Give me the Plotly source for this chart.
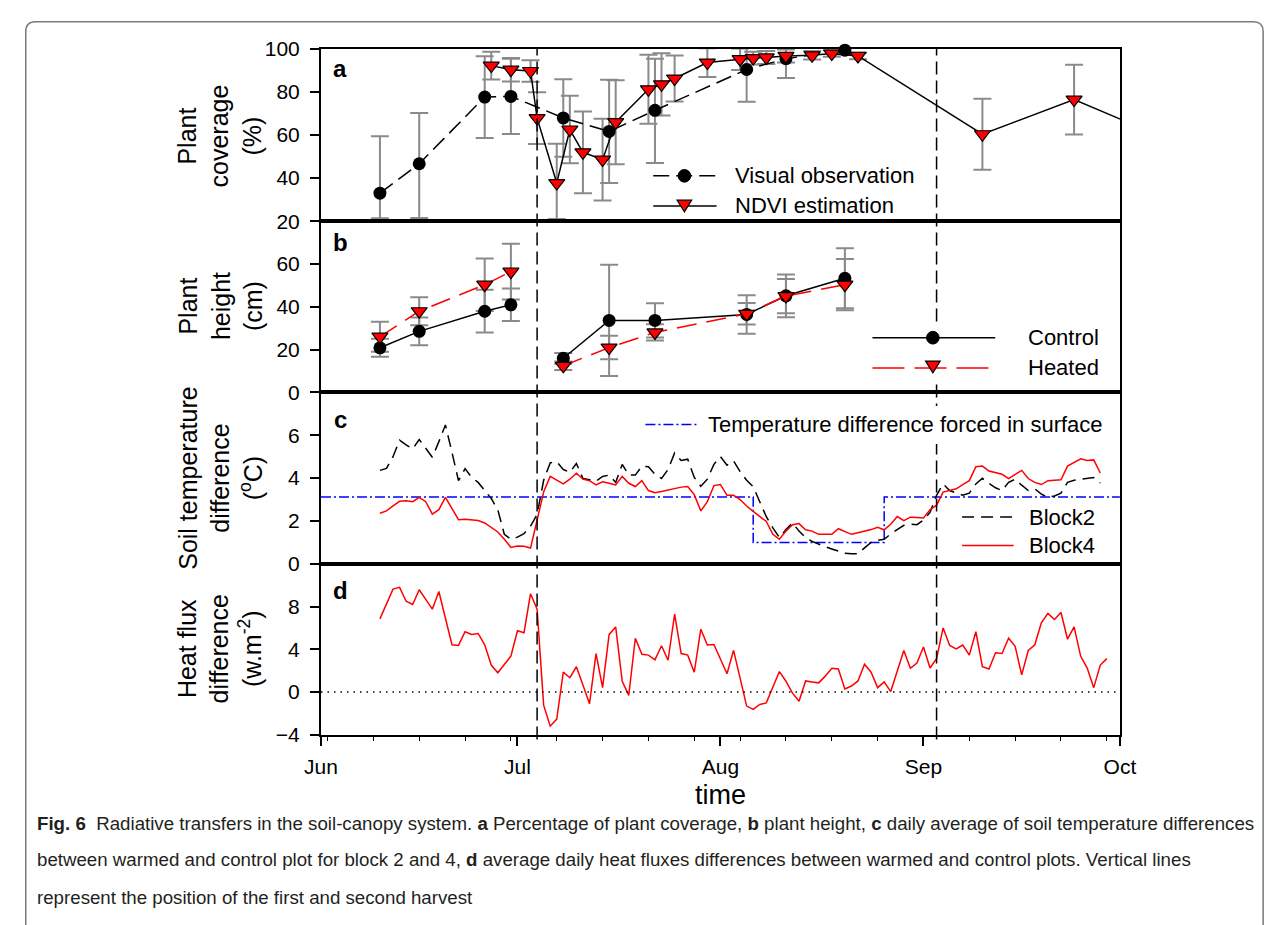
import pandas as pd
import plotly.graph_objects as go

W, H = 1285, 925

# ------------------------------------------------------------------ data
month_ticks = ["2011-06-01", "2011-07-01", "2011-08-01", "2011-09-01", "2011-10-01"]
x_range = ["2011-06-01", "2011-10-01"]
harvest_dates = ["2011-07-04", "2011-09-03"]

# (a) plant coverage (%)
visual_dates = ["2011-06-10", "2011-06-16", "2011-06-26", "2011-06-30", "2011-07-08",
                "2011-07-15", "2011-07-22", "2011-08-05", "2011-08-11", "2011-08-20"]
visual_cov = [33.0, 46.7, 77.7, 78.0, 68.0, 61.7, 71.5, 90.5, 95.5, 99.5]
visual_err_plus = [26.5, 23.6, 19.0, 17.5, 18.0, 24.0, 24.0, 15.0, 9.0, 2.0]
visual_err_minus = [11.7, 25.2, 19.0, 17.5, 18.0, 24.0, 24.5, 15.0, 9.0, 2.0]

ndvi_dates = ["2011-06-27", "2011-06-30", "2011-07-03", "2011-07-04", "2011-07-07",
              "2011-07-09", "2011-07-11", "2011-07-14", "2011-07-16", "2011-07-21",
              "2011-07-23", "2011-07-25", "2011-07-30", "2011-08-04", "2011-08-06",
              "2011-08-08", "2011-08-11", "2011-08-15", "2011-08-18", "2011-08-22",
              "2011-09-10", "2011-09-24", "2011-10-08"]
ndvi_cov = [92.3, 90.4, 89.8, 67.9, 37.7, 62.6, 52.0, 48.6, 66.0, 81.3, 83.6, 86.3,
            93.7, 95.3, 95.8, 96.1, 96.8, 97.1, 97.9, 96.8, 60.4, 76.5, 58.5]
ndvi_err_plus = [6.5, 5.5, 5.0, 12.0, 18.3, 15.7, 19.0, 19.0, 19.5, 16.0, 14.5, 10.7,
                 6.7, 5.0, 3.0, 3.0, 3.0, 2.0, 1.5, 1.5, 16.5, 16.2, 0.0]
ndvi_err_minus = [6.5, 5.5, 5.0, 12.0, 16.7, 15.7, 19.0, 19.0, 19.5, 16.0, 14.5, 10.7,
                  6.7, 5.0, 3.0, 3.0, 3.0, 2.0, 1.5, 1.5, 16.5, 16.2, 0.0]

# (b) plant height (cm) ; None separates the two growth periods
height_dates = ["2011-06-10", "2011-06-16", "2011-06-26", "2011-06-30", None,
                "2011-07-08", "2011-07-15", "2011-07-22", "2011-08-05", "2011-08-11", "2011-08-20"]
control_height = [20.8, 28.5, 37.9, 40.9, None, 15.9, 33.6, 33.6, 36.4, 45.1, 53.3]
control_err = [4.2, 6.5, 10.0, 7.6, None, 2.5, 26.0, 8.0, 9.0, 10.0, 14.0]
heated_height = [26.0, 37.9, 50.3, 56.4, None, 12.4, 20.9, 28.0, 36.7, 45.0, 50.3]
heated_err = [7.0, 6.5, 12.3, 13.0, None, 2.0, 5.5, 3.8, 5.0, 8.0, 12.0]

# (c) soil temperature difference (degC), daily from 10 June
block_start = "2011-06-10"
block2 = [4.36, 4.45, 5.0, 5.77, 5.55, 5.36, 5.8, 5.4, 4.97, 5.7,
          6.48, 5.2, 3.88, 4.44, 4.03, 3.8, 3.42, 3.05, 2.52, 1.38,
          1.15, 1.25, 1.41, 1.76, 2.3, 3.9, 4.71, 4.76, 4.4, 4.27,
          4.68, 3.98, 3.92, 3.86, 4.08, 4.14, 3.8, 4.64, 4.14, 4.14,
          4.56, 4.53, 4.18, 3.98, 4.4, 5.17, 4.82, 4.88, 4.03, 3.62,
          3.95, 4.64, 5.0, 4.6, 4.8, 4.3, 3.9, 3.6, 2.9, 2.2,
          1.68, 1.23, 1.6, 1.91, 1.53, 1.23, 1.05, 0.92, 0.8, 0.7,
          0.6, 0.5, 0.47, 0.47, 0.75, 1.0, 1.1, 1.15, 1.4, 1.6,
          1.8, 1.85, 1.83, 2.05, 2.4, 3.2, 3.73, 3.42, 3.3, 3.2,
          3.3, 3.73, 4.0, 3.75, 3.55, 3.42, 3.8, 3.95, 3.67, 3.42,
          3.5, 3.25, 3.1, 3.17, 3.3, 3.8, 3.9, 3.95, 4.0, 4.03, 3.77]
block4 = [2.36, 2.47, 2.71, 2.92, 2.94, 2.9, 3.1, 2.9, 2.32, 2.53,
          3.1, 2.56, 2.06, 2.08, 2.06, 2.02, 1.91, 1.71, 1.49, 1.15,
          0.77, 0.83, 0.82, 0.74, 2.0, 3.35, 4.08, 3.92, 3.73, 3.95,
          4.23, 3.95, 3.88, 3.68, 3.83, 3.76, 3.68, 4.08, 3.76, 3.61,
          3.88, 3.42, 3.32, 3.38, 3.45, 3.53, 3.58, 3.61, 3.23, 2.47,
          2.9, 3.65, 3.7, 3.2, 3.2, 3.0, 2.7, 2.45, 2.2, 1.98,
          1.38, 1.15, 1.53, 1.83, 1.88, 1.59, 1.53, 1.38, 1.38, 1.38,
          1.64, 1.5, 1.38, 1.45, 1.52, 1.6, 1.71, 1.59, 1.85, 2.21,
          2.02, 2.18, 2.16, 2.14, 2.52, 2.74, 3.35, 3.42, 3.5, 3.7,
          3.88, 4.53, 4.56, 4.33, 4.25, 4.18, 3.98, 4.15, 4.36, 3.98,
          3.8, 3.7, 3.88, 3.9, 3.92, 4.56, 4.75, 4.9, 4.82, 4.85, 4.24]
forced_dates = ["2011-06-01", "2011-08-06", "2011-08-26", "2011-10-01"]
forced_diff = [3.12, 1.0, 3.12, 3.12]

# (d) heat flux difference (W m-2), daily from 10 June
flux_start = "2011-06-10"
heat_flux = [6.85, 8.2, 9.64, 9.8, 8.5, 8.2, 9.58, 8.67, 7.76, 9.42,
             6.85, 4.42, 4.36, 5.64, 5.39, 5.48, 4.42, 2.52, 1.79, 2.6,
             3.36, 5.73, 5.55, 9.21, 7.76, -1.24, -3.21, -2.55, 1.85, 1.33,
             2.36, 0.64, -1.12, 3.6, 0.4, 5.39, 6.09, 1.0, -0.33, 5.03,
             3.52, 3.45, 3.0, 4.33, 2.97, 7.3, 3.6, 3.45, 1.85, 5.88,
             4.4, 4.45, 3.06, 1.7, 3.9, 1.3, -1.33, -1.64, -1.18, -1.03,
             0.42, 1.91, 1.0, -0.12, -0.88, 1.03, 0.94, 0.85, 1.48, 2.21,
             2.15, 0.27, 0.55, 1.03, 2.6, 1.85, 0.4, 0.94, 0.03, 1.9,
             3.88, 2.21, 2.7, 4.21, 2.24, 3.12, 6.0, 4.36, 4.03, 4.39,
             3.45, 5.64, 2.36, 2.15, 3.67, 3.6, 5.03, 4.27, 1.6, 3.88,
             4.42, 6.48, 7.36, 6.79, 7.45, 4.94, 6.09, 3.36, 2.24, 0.4, 2.52, 3.12]

block_dates = pd.date_range(block_start, periods=len(block2), freq="D")
flux_dates = pd.date_range(flux_start, periods=len(heat_flux), freq="D")

caption_lines = [
    "<b>Fig. 6</b>\u00a0\u00a0Radiative transfers in the soil-canopy system. <b>a</b> Percentage of plant "
    "coverage, <b>b</b> plant height, <b>c</b> daily average of soil temperature differences",
    "between warmed and control plot for block 2 and 4, <b>d</b> average daily heat fluxes differences "
    "between warmed and control plots. Vertical lines",
    "represent the position of the first and second harvest",
]

# ------------------------------------------------------------------ helpers
FONT = "Liberation Sans, Arial, sans-serif"
GREY = "#8a8a8a"


def px(x):
    return x / W


def py(y):
    return 1 - y / H


fig = go.Figure()

# ---- panel a
fig.add_trace(go.Scatter(x=visual_dates, y=visual_cov, mode="markers", xaxis="x", yaxis="y",
                         marker=dict(size=1, color="rgba(0,0,0,0)"),
                         error_y=dict(type="data", array=visual_err_plus, arrayminus=visual_err_minus,
                                      color=GREY, thickness=2, width=9)))
fig.add_trace(go.Scatter(x=ndvi_dates, y=ndvi_cov, mode="markers", xaxis="x", yaxis="y",
                         marker=dict(size=1, color="rgba(0,0,0,0)"),
                         error_y=dict(type="data", array=ndvi_err_plus, arrayminus=ndvi_err_minus,
                                      color=GREY, thickness=2, width=9)))
fig.add_trace(go.Scatter(x=visual_dates, y=visual_cov, mode="lines+markers", xaxis="x", yaxis="y",
                         name="Visual observation", cliponaxis=False,
                         line=dict(color="black", width=1.5, dash="16px,7px"),
                         marker=dict(symbol="circle", size=13, color="black")))
fig.add_trace(go.Scatter(x=ndvi_dates, y=ndvi_cov, mode="lines+markers", xaxis="x", yaxis="y",
                         name="NDVI estimation",
                         line=dict(color="black", width=1.5),
                         marker=dict(symbol="triangle-down", size=14, color="#ff0000",
                                     line=dict(color="black", width=1.2))))

# ---- panel b
fig.add_trace(go.Scatter(x=height_dates, y=control_height, mode="markers", xaxis="x2", yaxis="y2",
                         marker=dict(size=1, color="rgba(0,0,0,0)"),
                         error_y=dict(type="data", array=control_err, color=GREY, thickness=2, width=9)))
fig.add_trace(go.Scatter(x=height_dates, y=heated_height, mode="markers", xaxis="x2", yaxis="y2",
                         marker=dict(size=1, color="rgba(0,0,0,0)"),
                         error_y=dict(type="data", array=heated_err, color=GREY, thickness=2, width=9)))
fig.add_trace(go.Scatter(x=height_dates, y=control_height, mode="lines+markers", xaxis="x2", yaxis="y2",
                         name="Control", line=dict(color="black", width=1.5),
                         marker=dict(symbol="circle", size=13, color="black")))
fig.add_trace(go.Scatter(x=height_dates, y=heated_height, mode="lines+markers", xaxis="x2", yaxis="y2",
                         name="Heated", line=dict(color="#ff0000", width=1.5, dash="20px,10px"),
                         marker=dict(symbol="triangle-down", size=14, color="#ff0000",
                                     line=dict(color="black", width=1.2))))

# ---- panel c
fig.add_trace(go.Scatter(x=forced_dates, y=forced_diff, mode="lines", xaxis="x3", yaxis="y3",
                         name="Temperature difference forced in surface", line_shape="hv",
                         line=dict(color="#0000ff", width=1.5, dash="10px,3px,2px,3px")))
fig.add_trace(go.Scatter(x=block_dates, y=block2, mode="lines", xaxis="x3", yaxis="y3",
                         name="Block2", line=dict(color="black", width=1.5, dash="12px,7px")))
fig.add_trace(go.Scatter(x=block_dates, y=block4, mode="lines", xaxis="x3", yaxis="y3",
                         name="Block4", line=dict(color="#ff0000", width=1.5)))

# ---- panel d
fig.add_trace(go.Scatter(x=flux_dates, y=heat_flux, mode="lines", xaxis="x4", yaxis="y4",
                         name="Heat flux", line=dict(color="#ff0000", width=1.5)))

# ------------------------------------------------------------------ axes
xdom = [px(312), px(1132)]
xbase = dict(domain=xdom, type="date", range=x_range, showline=True, mirror=True,
             linecolor="black", linewidth=2, showgrid=False, zeroline=False)
ybase = dict(showline=True, mirror=True, linecolor="black", linewidth=2, showgrid=False,
             zeroline=False, ticks="outside", ticklen=9, tickwidth=1.5, tickcolor="black",
             tickfont=dict(family=FONT, size=21, color="black"), ticklabelstandoff=6)

fig.update_layout(
    width=W, height=H, margin=dict(l=0, r=0, t=0, b=0),
    paper_bgcolor="white", plot_bgcolor="white", showlegend=False,
    font=dict(family=FONT, color="black", size=21),
    xaxis=dict(**xbase, anchor="y", showticklabels=False, ticks=""),
    xaxis2=dict(**xbase, anchor="y2", showticklabels=False, ticks=""),
    xaxis3=dict(**xbase, anchor="y3", showticklabels=False, ticks=""),
    xaxis4=dict(**xbase, anchor="y4", ticks="outside", ticklen=9, tickwidth=1.5, tickcolor="black",
                tickvals=month_ticks, tickformat="%b",
                tickfont=dict(family=FONT, size=21, color="black"), ticklabelstandoff=3,
                minor=dict(ticks="outside", ticklen=4, tickwidth=1, tickcolor="black",
                           dtick=7 * 86400000, tick0="2011-06-02")),
    yaxis=dict(**ybase, anchor="x", domain=[py(214.5), py(38)], range=[20, 100],
               tickvals=[20, 40, 60, 80, 100]),
    yaxis2=dict(**ybase, anchor="x2", domain=[py(390), py(214.5)], range=[0, 80],
                tickvals=[0, 20, 40, 60]),
    yaxis3=dict(**ybase, anchor="x3", domain=[py(566), py(390)], range=[0, 8],
                tickvals=[0, 2, 4, 6]),
    yaxis4=dict(**ybase, anchor="x4", domain=[py(741), py(566)], range=[-4, 12],
                tickvals=[-4, 0, 4, 8]),
)

# ------------------------------------------------------------------ shapes
shapes = []
# rounded figure frame
frame_path = (f"M {px(9)},{py(945)} L {px(9)},{py(20)} Q {px(9)},{py(10)} {px(19)},{py(10)} "
              f"L {px(1269)},{py(10)} Q {px(1279)},{py(10)} {px(1279)},{py(20)} L {px(1279)},{py(945)}")
shapes.append(dict(type="path", xref="paper", yref="paper", path=frame_path,
                   line=dict(color="#7a7a7a", width=1.5)))
# harvest lines
for hd in harvest_dates:
    shapes.append(dict(type="line", xref="x4", yref="paper", x0=hd, x1=hd, y0=py(746), y1=py(38),
                       line=dict(color="black", width=1.5, dash="13px,6px")))
# zero line in panel d
shapes.append(dict(type="line", xref="paper", yref="y4", x0=px(312), x1=px(1132), y0=0, y1=0,
                   line=dict(color="black", width=1.5, dash="1.5px,5px")))
# white legend boxes
shapes.append(dict(type="rect", xref="paper", yref="paper", x0=px(870), x1=px(1126),
                   y0=py(378), y1=py(322), fillcolor="white", line=dict(width=0)))
shapes.append(dict(type="rect", xref="paper", yref="paper", x0=px(638), x1=px(1128),
                   y0=py(443), y1=py(404), fillcolor="white", line=dict(width=0)))


def hline(x0, x1, y, color, dash="solid"):
    shapes.append(dict(type="line", xref="paper", yref="paper", x0=px(x0), x1=px(x1),
                       y0=py(y), y1=py(y), line=dict(color=color, width=1.5, dash=dash)))


def circ(cx, cy, r=6.5):
    shapes.append(dict(type="circle", xref="paper", yref="paper", x0=px(cx - r), x1=px(cx + r),
                       y0=py(cy + r), y1=py(cy - r), fillcolor="black", line=dict(color="black", width=1)))


def tri(cx, cy, w=15, h=12):
    p = (f"M {px(cx - w / 2)},{py(cy - h / 2)} L {px(cx + w / 2)},{py(cy - h / 2)} "
         f"L {px(cx)},{py(cy + h / 2)} Z")
    shapes.append(dict(type="path", xref="paper", yref="paper", path=p, fillcolor="#ff0000",
                       line=dict(color="black", width=1.2)))


# legend a
hline(653, 718, 168, "black", "16px,7px")
circ(685, 168)
hline(653, 718, 199, "black")
tri(685, 199)
# legend b
hline(878, 1004, 334, "black")
circ(940, 334)
hline(878, 1002, 365, "#ff0000", "32px,10px")
tri(940, 364)
# legend c
hline(645, 698, 423, "#0000ff", "10px,3px,2px,3px")
hline(970, 1023, 518, "black", "12px,7px")
hline(970, 1023, 547, "#ff0000")

fig.update_layout(shapes=shapes)

# ------------------------------------------------------------------ annotations
ann = []


def text(x, y, s, size=22, xanchor="left", angle=0, yanchor="middle", align="left", color="black"):
    ann.append(dict(xref="paper", yref="paper", x=px(x), y=py(y), text=s, showarrow=False,
                    xanchor=xanchor, yanchor=yanchor, textangle=angle, align=align,
                    font=dict(family=FONT, size=size, color=color)))


# legend texts
text(735, 168, "Visual observation")
text(735, 198, "NDVI estimation")
text(1036, 334, "Control")
text(1036, 365, "Heated")
text(707, 423, "Temperature difference forced in surface")
text(1037, 518, "Block2")
text(1037, 547, "Block4")

# panel letters
for letter, yy in [("a", 58), ("b", 236), ("c", 418), ("d", 593)]:
    text(332, yy, f"<b>{letter}</b>", size=24, xanchor="center")

# y-axis titles (rotated)
text(208, 127, "Plant<br>coverage<br>(%)", size=25, xanchor="center", angle=-90, align="center")
text(209, 302, "Plant<br>height<br>(cm)", size=25, xanchor="center", angle=-90, align="center")
text(208, 478, "Soil temperature<br>difference<br>(<sup>o</sup>C)", size=25, xanchor="center", angle=-90,
     align="center")
text(208, 653, "Heat flux<br>difference<br>(w.m<sup>-2</sup>)", size=25, xanchor="center", angle=-90,
     align="center")

# x-axis title
text(722, 803, "time", size=27, xanchor="center")

# caption
for line, yy in zip(caption_lines, [832, 869, 908]):
    text(18, yy, line, size=18.7, color="#231f20")

fig.update_layout(annotations=ann)

fig.write_html("out.html")
